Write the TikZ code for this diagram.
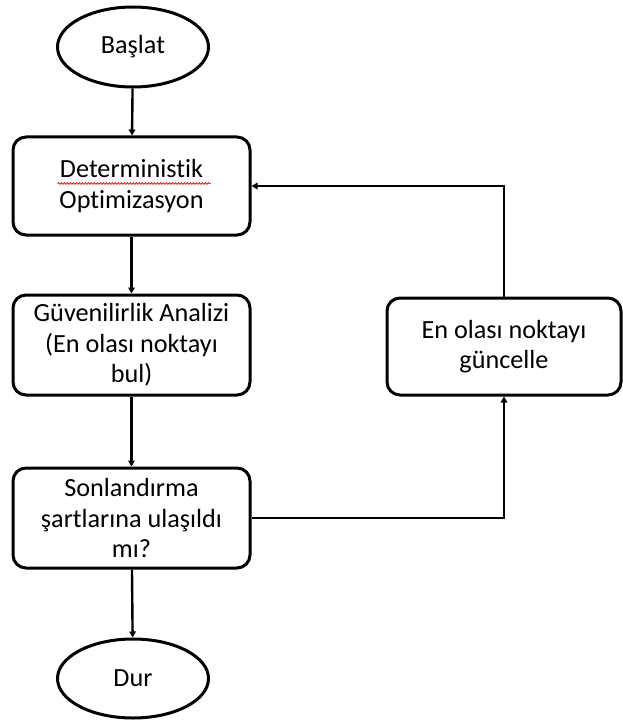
\documentclass[tikz,border=0pt]{standalone}
\usepackage{fontspec}
\setmainfont{Carlito}[Ligatures=NoCommon]
\usetikzlibrary{shapes.geometric,arrows.meta,calc,decorations.pathmorphing}
\begin{document}
\begin{tikzpicture}[x=1pt,y=-1pt,
  every node/.style={font=\fontsize{26.2}{30.5}\selectfont, text=black, align=center, inner sep=0pt},
  term/.style={draw, ellipse, line width=3pt, minimum width=151pt, minimum height=80pt},
  proc/.style={draw, rectangle, rounded corners=13pt, line width=3pt, minimum width=237pt, minimum height=98pt},
  conn/.style={line width=2.4pt, -{Triangle[length=6pt,width=6.5pt]}}]
\useasboundingbox (0,0) rectangle (622,722);
\node[term] (start) at (133,47) {Başlat};
\node[proc] (det) at (131.5,186) {Deterministik\\Optimizasyon};
\node[proc, minimum height=100pt] (guv) at (131.5,345) {Güvenilirlik Analizi\\(En olası noktayı\\bul)};
\node[proc, minimum height=100pt] (son) at (131.5,518) {Sonlandırma\\şartlarına ulaşıldı\\mı?};
\node[term, minimum height=79pt] (dur) at (133,678.5) {Dur};
\node[proc, minimum width=234pt, minimum height=97pt] (upd) at (504,346.5) {En olası noktayı\\güncelle};
\draw[red, line width=0.7pt, decorate, decoration={snake, amplitude=0.9pt, segment length=3pt}]
  ($(det.center)+(-74,-2.5)$) -- ($(det.center)+(79,-2.5)$);
\draw[conn] (start) -- (det);
\draw[conn] (det) -- (guv);
\draw[conn] (guv) -- (son);
\draw[conn] (son) -- (dur);
\draw[conn] (upd.north) |- (det.east);
\draw[conn] (son.east) -| (upd.south);
\end{tikzpicture}
\end{document}
